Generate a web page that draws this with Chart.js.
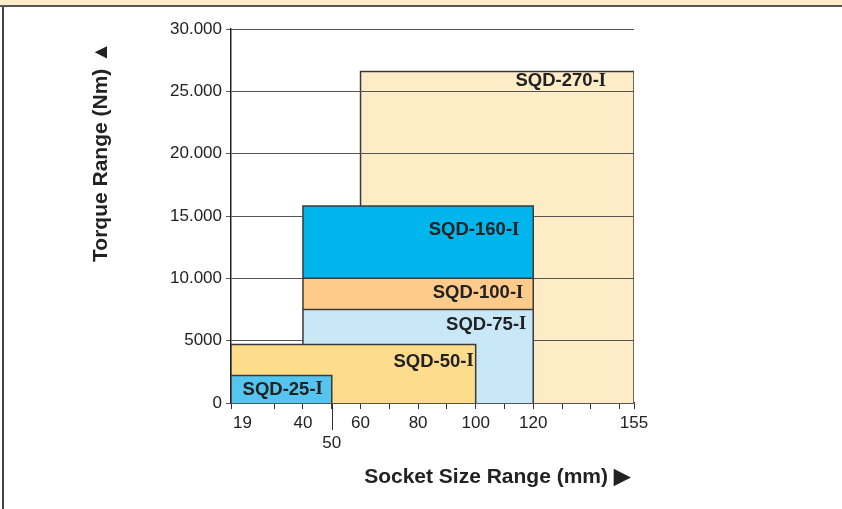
<!DOCTYPE html>
<html>
<head>
<meta charset="utf-8">
<script src="https://cdn.jsdelivr.net/npm/chart.js@4/dist/chart.umd.min.js"></script>
<style>
    html, body { margin: 0; padding: 0; background: #fff; }
    #wrap { position: relative; width: 842px; height: 509px; overflow: hidden; }
    #band { position: absolute; left: 0; top: 0; width: 842px; height: 5px; background: #fdecc6; border-bottom: 2px solid #555; }
    #frame { position: absolute; left: 2px; top: 7px; width: 2px; height: 502px; background: #444; }
    canvas { position: absolute; left: 0; top: 0; }
</style>
</head>
<body>
<div id="wrap">
    <canvas id="grafico" width="842" height="509"></canvas>
    <div id="band"></div>
    <div id="frame"></div>
</div>
<script>
// Modelos, do fundo para a frente
const modelos = ["SQD-270-I", "SQD-160-I", "SQD-100-I", "SQD-75-I", "SQD-50-I", "SQD-25-I"];
// Faixa de soquete (mm)
const soqueteMin = [60, 40, 40, 40, 15, 15];
const soqueteMax = [155, 120, 120, 120, 100, 50];
// Faixa de torque (Nm)
const torqueMin = [0, 10000, 7500, 0, 0, 0];
const torqueMax = [26600, 15800, 10000, 7500, 4700, 2200];

const ticksX = [15, 19, 30, 40, 50, 60, 70, 80, 90, 100, 110, 120, 130, 140, 150, 155];
const rotulosX = { 19: "19", 40: "40", 50: ["", "50"], 60: "60", 80: "80", 100: "100", 120: "120", 155: "155" };
const ticksY = [0, 5000, 10000, 15000, 20000, 25000, 30000];

const cores = ["#feecc7", "#00b5eb", "#fecb8b", "#c8e8f8", "#fddc8c", "#55c4ee"];
// deslocamento do texto em relação ao canto superior direito da caixa
const rotuloDesloc = [[-28, 10], [-14, 24], [-10, 15], [-7, 15], [-2, 17], [-9, 14]];

const datasets = modelos.map((nome, i) => ({
    label: nome,
    data: [
        { x: soqueteMin[i], y: torqueMin[i] },
        { x: soqueteMin[i], y: torqueMax[i] },
        { x: soqueteMax[i], y: torqueMax[i] },
        { x: soqueteMax[i], y: torqueMin[i] }
    ],
    backgroundColor: cores[i],
    borderColor: "#3a3a3a",
    borderWidth: 1.5,
    fill: { value: torqueMin[i] },
    pointRadius: 0,
    tension: 0,
    showLine: true,
    order: modelos.length - i
}));

const rotulosPlugin = {
    id: "rotulos",
    afterDatasetDraw(chart, args) {
        // as linhas de grade passam por cima da caixa do fundo
        if (args.index === 0) chart.scales.y.drawGrid(chart.chartArea);
    },
    afterDatasetsDraw(chart) {
        const { ctx, scales } = chart;
        ctx.save();
        ctx.fillStyle = "#222";
        ctx.textBaseline = "middle";
        modelos.forEach((nome, i) => {
            const right = scales.x.getPixelForValue(soqueteMax[i]) + rotuloDesloc[i][0];
            const y = scales.y.getPixelForValue(torqueMax[i]) + rotuloDesloc[i][1];
            const corpo = nome.slice(0, -1);
            ctx.font = "bold 18.5px 'Liberation Serif'";
            const wI = ctx.measureText("I").width;
            ctx.textAlign = "right";
            ctx.fillText("I", right, y);
            ctx.font = "bold 18.5px 'Liberation Sans', Arial";
            ctx.fillText(corpo, right - wI, y);
        });

        // traço longo do 50
        const x50 = scales.x.getPixelForValue(50);
        ctx.strokeStyle = "#333";
        ctx.lineWidth = 1;
        ctx.beginPath();
        ctx.moveTo(Math.round(x50) + 0.5, scales.x.top);
        ctx.lineTo(Math.round(x50) + 0.5, scales.x.top + 27);
        ctx.stroke();

        // títulos dos eixos
        ctx.fillStyle = "#222";
        ctx.font = "bold 21px 'Liberation Sans', Arial";
        ctx.textAlign = "center";
        ctx.fillText("Socket Size Range (mm) \u25B6", 497, 477);
        ctx.translate(101, 152);
        ctx.rotate(-Math.PI / 2);
        ctx.fillText("Torque Range (Nm) \u25B2", 0, 0);
        ctx.restore();
    }
};

new Chart(document.getElementById("grafico"), {
    type: "scatter",
    data: { datasets },
    options: {
        responsive: false,
        animation: false,
        layout: { padding: { top: 29, right: 208, left: 0, bottom: 0 } },
        plugins: { legend: { display: false }, tooltip: { enabled: false } },
        scales: {
            x: {
                type: "linear",
                min: 15,
                max: 155,
                afterBuildTicks: s => { s.ticks = ticksX.map(v => ({ value: v })); },
                afterFit: s => { s.height = 106; },
                border: { color: "#333", width: 1.5 },
                grid: {
                    drawOnChartArea: false,
                    tickLength: 6,
                    tickColor: c => (c.tick && c.tick.value === 19 ? "rgba(0,0,0,0)" : "#333")
                },
                ticks: {
                    autoSkip: false,
                    maxRotation: 0,
                    padding: 4,
                    color: "#222",
                    font: { family: "'Liberation Sans', Arial", size: 17 },
                    callback: v => rotulosX[v] || ""
                }
            },
            y: {
                min: 0,
                max: 30000,
                afterBuildTicks: s => { s.ticks = ticksY.map(v => ({ value: v })); },
                afterFit: s => { s.width = 231; },
                border: { color: "#222", width: 1.5 },
                grid: { color: "#555", lineWidth: 1, tickLength: 5, tickColor: "#555" },
                ticks: {
                    padding: 4,
                    color: "#222",
                    font: { family: "'Liberation Sans', Arial", size: 17 },
                    callback: v => (v >= 10000 ? (v / 1000).toFixed(3) : String(v))
                }
            }
        }
    },
    plugins: [rotulosPlugin]
});
</script>
</body>
</html>
